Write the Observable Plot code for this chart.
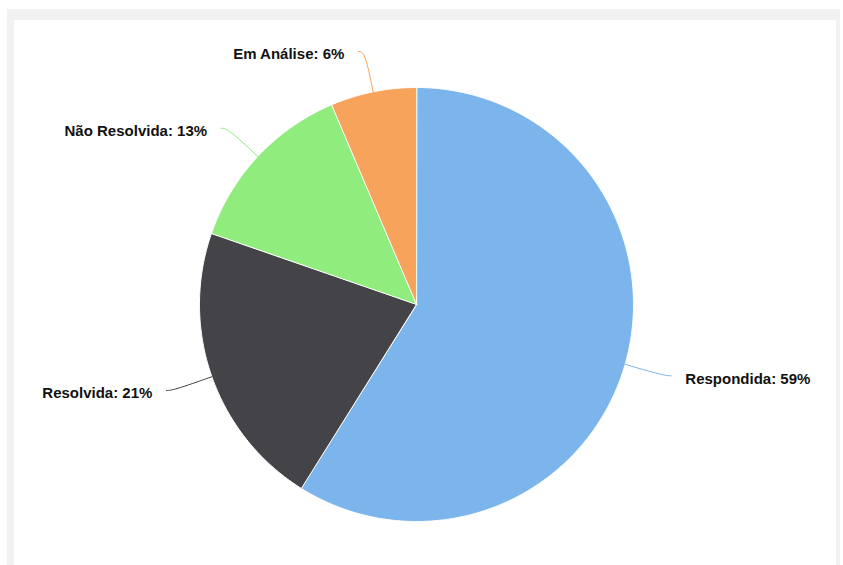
<!DOCTYPE html>
<html>
<head>
<meta charset="utf-8">
<script src="https://cdn.jsdelivr.net/npm/d3@7"></script>
<script src="https://cdn.jsdelivr.net/npm/@observablehq/plot@0.6"></script>
<style>
  html, body { margin: 0; padding: 0; background: #ffffff; }
  body { width: 843px; height: 565px; position: relative; overflow: hidden; }
  #frame { position: absolute; left: 7px; top: 9px; width: 833px; height: 556px; background: #f1f1f1; }
  #panel { position: absolute; left: 14px; top: 20px; width: 822px; height: 545px; background: #ffffff; }
  #chart { position: absolute; left: 0; top: 0; }
  #chart svg { background: transparent; }
</style>
</head>
<body>
<div id="frame"></div>
<div id="panel"></div>
<div id="chart"></div>
<script>
// ---- data ----
const categories = ["Respondida", "Resolvida", "Não Resolvida", "Em Análise"];
const shares = [58.9, 21.4, 13.3, 6.4];
const colors = ["#7cb5ec", "#434348", "#90ed7d", "#f7a35c"];

// ---- layout ----
const W = 843, H = 565;
const CX = 416, CY = 304, R = 217;

const total = d3.sum(shares);
const pie = d3.pie().sort(null).value(d => d.share)(
  categories.map((c, i) => ({category: c, share: shares[i]}))
);

// slice polygons in unit-radius coordinates (x right, y up), angle clockwise from top
const slicePts = [];
pie.forEach(p => {
  const cat = p.data.category;
  slicePts.push({category: cat, x: 0, y: 0});
  const n = Math.max(2, Math.ceil((p.endAngle - p.startAngle) / (Math.PI / 360)));
  for (let k = 0; k <= n; k++) {
    const a = p.startAngle + (p.endAngle - p.startAngle) * k / n;
    slicePts.push({category: cat, x: Math.sin(a), y: Math.cos(a)});
  }
});

const labelR = 1.19, tail = 0.03, gap = 0.095;
const connectors = [];
const labels = [];
pie.forEach(p => {
  const cat = p.data.category;
  const a = (p.startAngle + p.endAngle) / 2;
  const s = Math.sin(a) >= 0 ? 1 : -1;
  const ex = labelR * Math.sin(a), ey = labelR * Math.cos(a);
  connectors.push({category: cat, x: Math.sin(a), y: Math.cos(a)});
  connectors.push({category: cat, x: ex, y: ey});
  connectors.push({category: cat, x: ex + s * tail, y: ey});
  labels.push({
    category: cat,
    text: `${cat}: ${Math.round(p.data.share / total * 100)}%`,
    x: ex + s * gap,
    y: ey,
    anchor: s > 0 ? "start" : "end"
  });
});

const chart = Plot.plot({
  width: W,
  height: H,
  margin: 0,
  x: {domain: [-CX / R, (W - CX) / R], range: [0, W], axis: null},
  y: {domain: [-(H - CY) / R, CY / R], range: [H, 0], axis: null},
  color: {domain: categories, range: colors},
  style: {background: "transparent", overflow: "visible"},
  marks: [
    Plot.line(slicePts, {
      x: "x", y: "y", z: "category",
      fill: "category", stroke: "#ffffff", strokeWidth: 1,
      strokeLinejoin: "round", curve: "linear-closed"
    }),
    Plot.line(connectors, {
      x: "x", y: "y", z: "category",
      stroke: "category", strokeWidth: 1, curve: "basis"
    }),
    Plot.text(labels.filter(d => d.anchor === "start"), {
      x: "x", y: "y", text: "text", textAnchor: "start", dy: 3,
      fontFamily: "'Liberation Sans', Arial, sans-serif",
      fontWeight: "bold", fontSize: 15, fill: "#111"
    }),
    Plot.text(labels.filter(d => d.anchor === "end"), {
      x: "x", y: "y", text: "text", textAnchor: "end", dy: 3,
      fontFamily: "'Liberation Sans', Arial, sans-serif",
      fontWeight: "bold", fontSize: 15, fill: "#111"
    })
  ]
});
document.getElementById("chart").appendChild(chart);
</script>
</body>
</html>
